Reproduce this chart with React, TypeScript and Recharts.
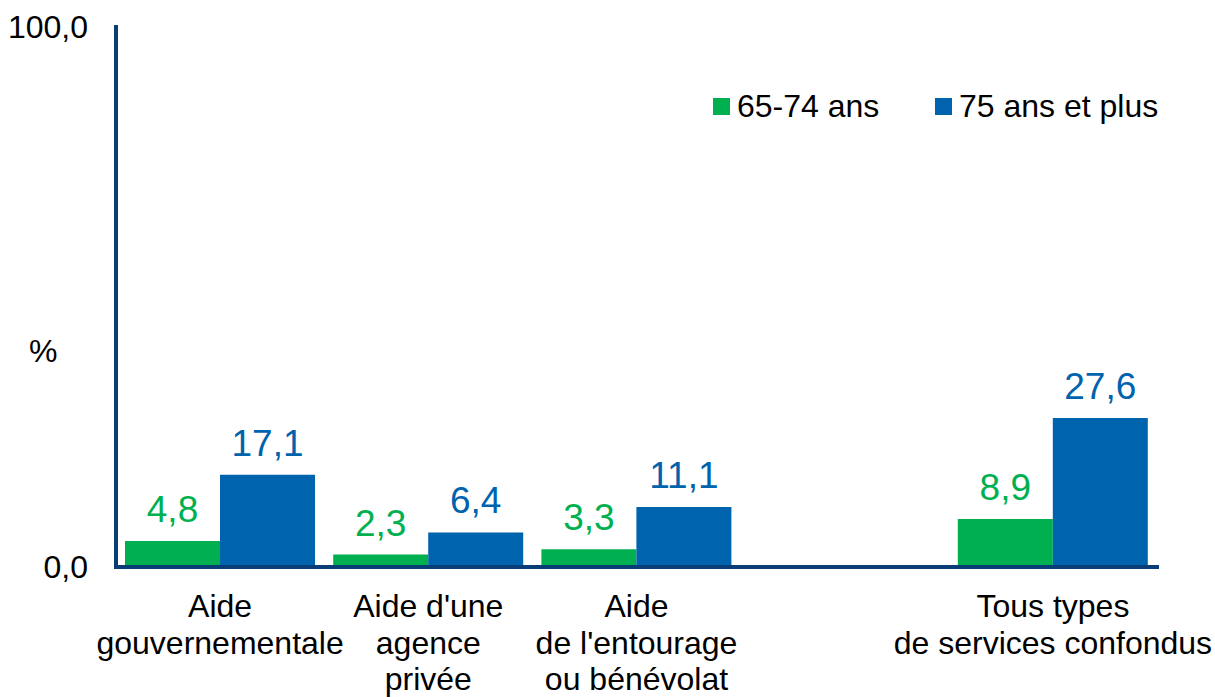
import React from 'react';
import { BarChart, Bar, XAxis, YAxis, Legend, LabelList } from 'recharts';

const categories = [
  'Aide\ngouvernementale',
  "Aide d'une\nagence\nprivée",
  "Aide\nde l'entourage\nou bénévolat",
  '',
  'Tous types\nde services confondus',
];
const ages65to74 = [4.8, 2.3, 3.3, null, 8.9];
const ages75plus = [17.1, 6.4, 11.1, null, 27.6];
const seriesNames = ['65-74 ans', '75 ans et plus'];
const yTicks = [0, 100];

const GREEN = '#00b050';
const BLUE = '#0063ad';
const AXIS = '#093d75';
const FONT = '"Liberation Sans", Arial, sans-serif';

const data = categories.map((name, i) => ({
  name,
  a: ages65to74[i],
  b: ages75plus[i],
}));

const fmt = (v: any) => (v === null || v === undefined ? '' : Number(v).toFixed(1).replace('.', ','));

const CategoryTick = (props: any) => {
  const { x, y, payload } = props;
  const lines = String(payload.value).split('\n');
  return (
    <text x={x} y={y + 48} textAnchor="middle" fill="#000" fontSize={32} fontFamily={FONT}>
      {lines.map((line, i) => (
        <tspan key={i} x={x} dy={i === 0 ? 0 : 36.5}>
          {line}
        </tspan>
      ))}
    </text>
  );
};

const renderLegend = () => {
  const colors = [GREEN, BLUE];
  return (
    <div style={{ display: 'flex', fontFamily: FONT, fontSize: 32, color: '#000' }}>
      {seriesNames.map((n, i) => (
        <div key={n} style={{ display: 'flex', alignItems: 'center', width: i === 0 ? 222 : 'auto' }}>
          <span style={{ display: 'inline-block', width: 17, height: 17, background: colors[i], marginRight: 7 }} />
          <span>{n}</span>
        </div>
      ))}
    </div>
  );
};

const App: React.FC = () => {
  return (
    <div style={{ width: 1215, height: 697, position: 'relative' }}>
      <style>{`body { margin: 0; }`}</style>
      <BarChart
        width={1215}
        height={697}
        data={data}
        margin={{ top: 27, right: 58, left: 0, bottom: 0 }}
        barCategoryGap={9}
        barGap={0}
      >
        <XAxis
          dataKey="name"
          interval={0}
          height={130}
          tickLine={false}
          tickSize={0}
          axisLine={{ stroke: AXIS, strokeWidth: 4, strokeLinecap: 'square' }}
          tick={<CategoryTick />}
        />
        <YAxis
          width={116}
          domain={[0, 100]}
          ticks={yTicks}
          tickFormatter={fmt}
          tickLine={false}
          tickSize={0}
          tickMargin={28}
          axisLine={{ stroke: AXIS, strokeWidth: 4, strokeLinecap: 'square' }}
          tick={{ fill: '#000', fontSize: 32, fontFamily: FONT }}
          label={{ value: '%', position: 'insideLeft', offset: 29, dy: 54, fill: '#000', fontSize: 32, fontFamily: FONT }}
        />
        <Legend
          layout="horizontal"
          verticalAlign="middle"
          align="center"
          content={renderLegend}
          wrapperStyle={{ position: 'absolute', top: 88, left: 713, width: 'auto' }}
        />
        <Bar dataKey="a" name={seriesNames[0]} fill={GREEN} isAnimationActive={false}>
          <LabelList dataKey="a" position="top" offset={19} formatter={fmt} fill={GREEN} fontSize={37} fontFamily={FONT} />
        </Bar>
        <Bar dataKey="b" name={seriesNames[1]} fill={BLUE} isAnimationActive={false}>
          <LabelList dataKey="b" position="top" offset={19} formatter={fmt} fill={BLUE} fontSize={37} fontFamily={FONT} />
        </Bar>
      </BarChart>
    </div>
  );
};

export default App;
